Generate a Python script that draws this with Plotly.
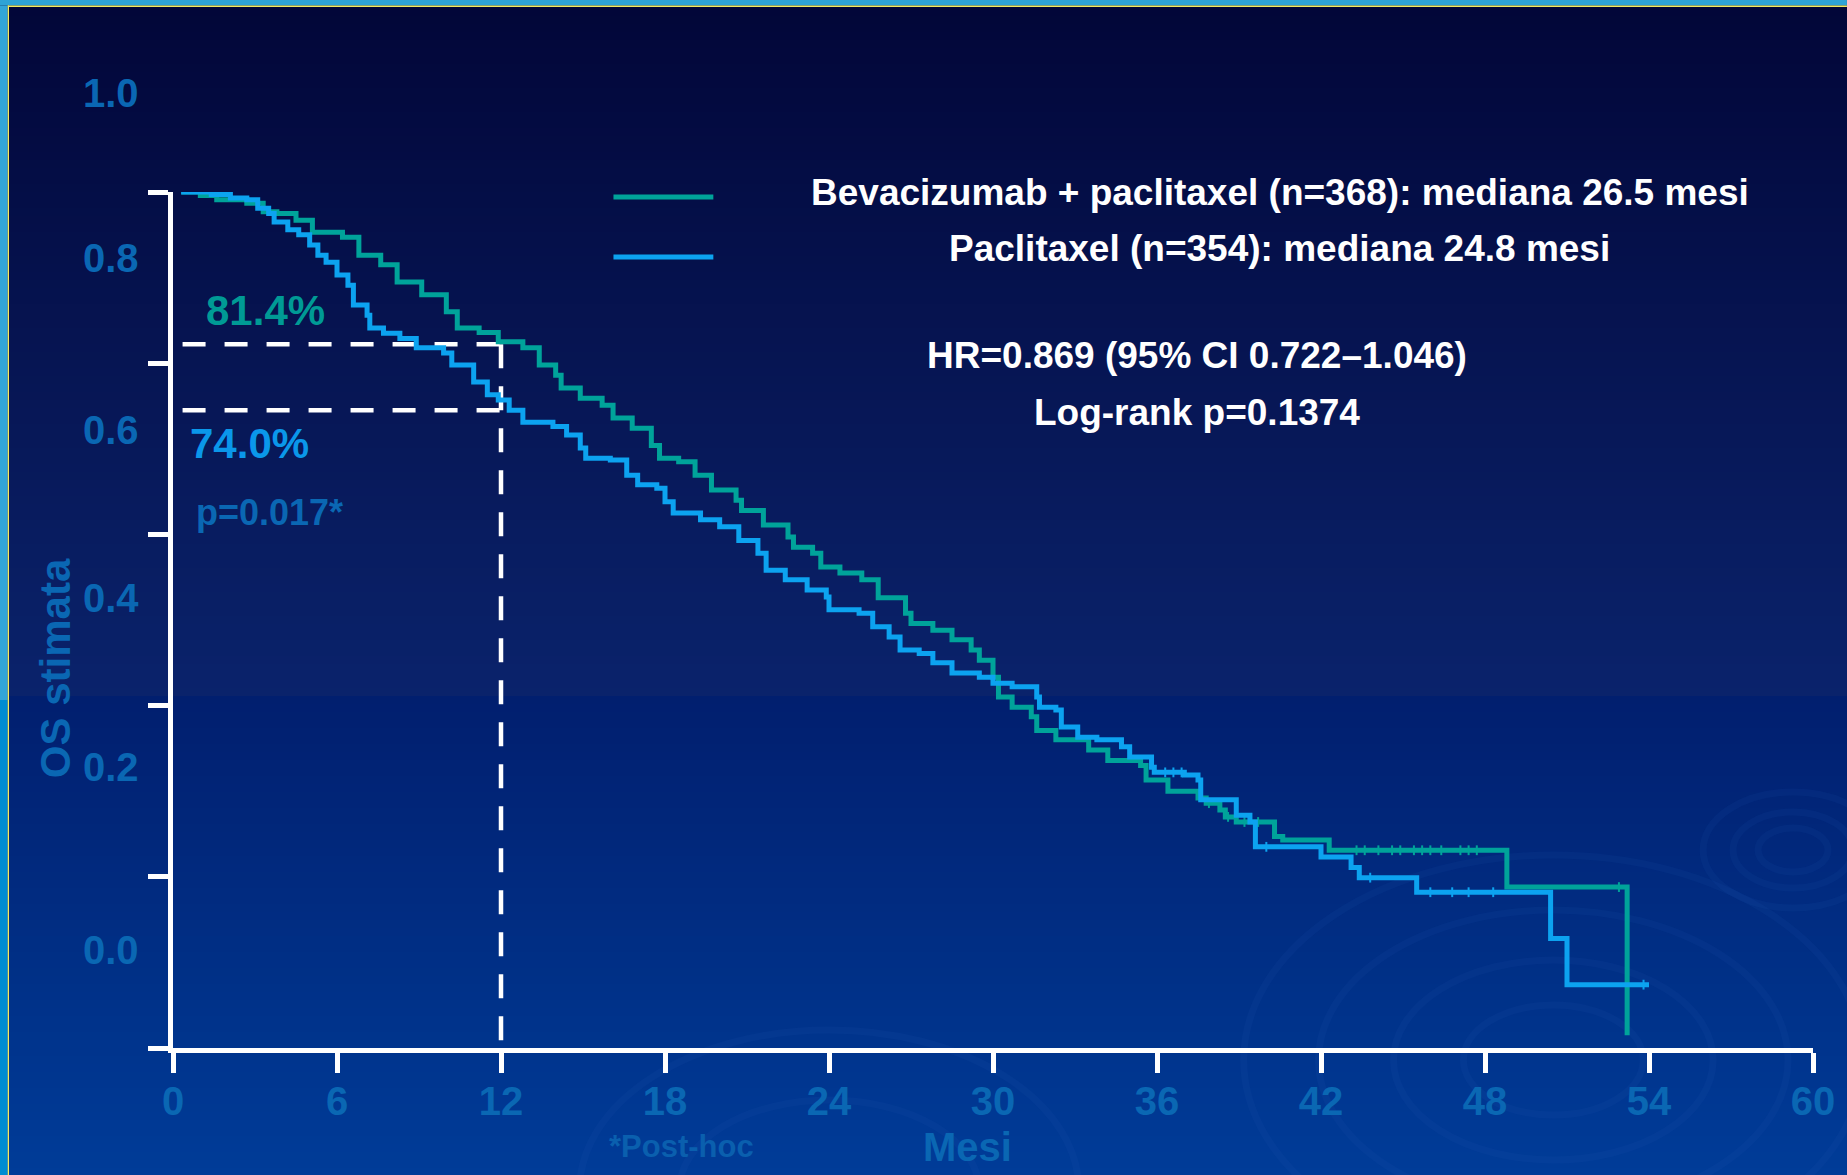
import plotly.graph_objects as go

# ---------------- data ----------------
bev_months = [0.3, 1.0, 1.6, 2.7, 3.3, 3.8, 4.5, 5.1, 6.2, 6.8, 7.6, 8.2, 9.1, 10.0, 10.4, 11.2,
              11.9, 12.8, 13.4, 14.0, 14.2, 14.9, 15.7, 16.1, 16.8, 17.5, 17.8, 18.5, 19.1, 19.7,
              20.6, 20.8, 21.6, 22.5, 22.7, 23.4, 23.7, 24.4, 25.2, 25.8, 26.8, 27.0, 27.8, 28.5,
              29.2, 29.5, 30.0, 30.2, 30.7, 31.4, 31.6, 32.3, 33.5, 34.2, 35.4, 35.6, 36.4, 37.5,
              37.8, 38.3, 38.5, 38.9, 40.3, 40.6, 42.3, 48.8, 53.2]
bev_surv = [1.000, 0.996, 0.991, 0.987, 0.977, 0.975, 0.967, 0.953, 0.947, 0.926, 0.915, 0.895,
            0.880, 0.860, 0.841, 0.836, 0.825, 0.818, 0.798, 0.786, 0.771, 0.759, 0.751, 0.736,
            0.724, 0.704, 0.689, 0.685, 0.669, 0.652, 0.640, 0.628, 0.611, 0.597, 0.585, 0.578,
            0.562, 0.555, 0.547, 0.526, 0.508, 0.496, 0.488, 0.477, 0.465, 0.453, 0.433, 0.410,
            0.398, 0.387, 0.371, 0.360, 0.348, 0.336, 0.330, 0.313, 0.300, 0.292, 0.286, 0.278,
            0.270, 0.264, 0.247, 0.243, 0.231, 0.188, 0.015]

pac_months = [0.3, 1.4, 2.1, 2.7, 3.1, 3.5, 3.7, 4.2, 4.6, 5.0, 5.3, 5.6, 6.0, 6.4, 6.6, 7.1, 7.2,
              7.7, 8.3, 8.9, 9.9, 10.2, 11.0, 11.5, 11.9, 12.3, 12.8, 13.9, 14.4, 14.9, 15.1, 16.0,
              16.6, 17.0, 17.7, 18.0, 18.3, 19.3, 20.0, 20.7, 21.4, 21.7, 22.4, 23.2, 23.9, 24.0,
              25.1, 25.6, 26.2, 26.6, 27.3, 27.8, 28.5, 29.5, 30.0, 30.7, 31.6, 31.7, 32.3, 32.5,
              33.1, 33.8, 34.7, 35.0, 35.8, 35.9, 37.0, 37.5, 37.6, 38.9, 39.4, 39.6, 42.0, 43.1,
              43.4, 45.5, 50.4, 51.0, 54.0]
pac_surv = [1.000, 0.997, 0.993, 0.991, 0.981, 0.975, 0.965, 0.956, 0.950, 0.938, 0.926, 0.918,
            0.903, 0.891, 0.868, 0.856, 0.841, 0.835, 0.829, 0.818, 0.812, 0.798, 0.778, 0.763,
            0.757, 0.745, 0.731, 0.726, 0.716, 0.701, 0.689, 0.687, 0.669, 0.658, 0.654, 0.638,
            0.625, 0.617, 0.609, 0.593, 0.578, 0.558, 0.547, 0.535, 0.527, 0.512, 0.508, 0.492,
            0.480, 0.465, 0.461, 0.450, 0.438, 0.433, 0.426, 0.422, 0.410, 0.398, 0.395, 0.375,
            0.363, 0.360, 0.352, 0.340, 0.328, 0.322, 0.319, 0.313, 0.290, 0.272, 0.264, 0.235,
            0.223, 0.211, 0.199, 0.182, 0.128, 0.074, 0.074]

bev_censor = [37.9, 38.6, 39.2, 39.7, 43.3, 43.6, 44.1, 44.6, 44.9, 45.4, 45.7, 46.0, 46.4, 47.1,
              47.4, 47.7, 52.9]
pac_censor = [36.3, 36.6, 36.9, 40.0, 43.8, 46.0, 46.8, 47.4, 48.3, 53.8]

landmark_month = 12
landmark_levels = [0.822, 0.745]        # where the dashed guides sit in the picture
landmark_texts = ["81.4%", "74.0%"]

x_ticks = [0, 6, 12, 18, 24, 30, 36, 42, 48, 54, 60]
y_ticks = [0, 0.2, 0.4, 0.6, 0.8, 1.0]
y_tick_labels = ["1.0", "0.8", "0.6", "0.4", "0.2", "0.0"]

legend_texts = ["Bevacizumab + paclitaxel (n=368): mediana 26.5 mesi",
                "Paclitaxel (n=354): mediana 24.8 mesi"]
stats_texts = ["HR=0.869 (95% CI 0.722–1.046)", "Log-rank p=0.1374"]

# ---------------- styling ----------------
W, H = 1847, 1175
L, R, T, B = 173, 32, 192, 127
PW, PH = W - L - R, H - T - B

GREEN = "#00A39A"
BLUE = "#0CA3F0"
TICKBLUE = "#0A67B3"
FONT = "Liberation Sans, Arial, Helvetica, sans-serif"


def px(X):
    return (X - L) / PW


def py(Y):
    return (H - B - Y) / PH


def step_value(months, surv, t):
    v = surv[0]
    for m, s in zip(months, surv):
        if m <= t:
            v = s
    return v


fig = go.Figure()

# dashed landmark guides
for lvl in landmark_levels:
    fig.add_trace(go.Scatter(x=[0.35, landmark_month], y=[lvl, lvl], mode="lines",
                             line=dict(color="white", width=4.5, dash="23px,19px"),
                             hoverinfo="skip", showlegend=False))
fig.add_trace(go.Scatter(x=[landmark_month, landmark_month], y=[max(landmark_levels), 0],
                         mode="lines", line=dict(color="white", width=4.5, dash="24px,18px"),
                         hoverinfo="skip", showlegend=False))

# KM curves
fig.add_trace(go.Scatter(x=bev_months, y=bev_surv, mode="lines", line_shape="hv",
                         line=dict(color=GREEN, width=5), showlegend=False))
fig.add_trace(go.Scatter(x=bev_censor, y=[step_value(bev_months, bev_surv, t) for t in bev_censor],
                         mode="markers", marker=dict(symbol="line-ns", size=7,
                                                     line=dict(color=GREEN, width=2)),
                         showlegend=False))
fig.add_trace(go.Scatter(x=pac_months, y=pac_surv, mode="lines", line_shape="hv",
                         line=dict(color=BLUE, width=5), showlegend=False))
fig.add_trace(go.Scatter(x=pac_censor, y=[step_value(pac_months, pac_surv, t) for t in pac_censor],
                         mode="markers", marker=dict(symbol="line-ns", size=7,
                                                     line=dict(color=BLUE, width=2)),
                         showlegend=False))

shapes = []


def lerp(c1, c2, f):
    return tuple(round(a + (b - a) * f) for a, b in zip(c1, c2))


# background gradient (two panels with a seam, as on the slide)
band = 8
for Y0 in range(0, H + band, band):
    Yc = Y0 + band / 2
    if Yc < 700:
        c = lerp((2, 6, 56), (10, 35, 108), Yc / 700)
    else:
        c = lerp((1, 31, 111), (0, 60, 152), (Yc - 700) / (H - 700))
    shapes.append(dict(type="rect", xref="paper", yref="paper", layer="below",
                       x0=px(-2), x1=px(W + 2), y0=py(Y0 + band + 0.6), y1=py(Y0),
                       line=dict(width=0), fillcolor="rgb(%d,%d,%d)" % c))

# faint decorative rings
for (cx, cy, rx, ry) in [(1555, 1060, 90, 55), (1555, 1060, 160, 100), (1555, 1060, 235, 150),
                         (1555, 1060, 310, 205), (830, 1190, 150, 90), (830, 1190, 250, 160),
                         (1795, 850, 35, 22), (1795, 850, 60, 38), (1795, 850, 90, 58)]:
    shapes.append(dict(type="circle", xref="paper", yref="paper", layer="below",
                       x0=px(cx - rx), x1=px(cx + rx), y0=py(cy + ry), y1=py(cy - ry),
                       line=dict(color="rgba(40,95,190,0.09)", width=7)))

# frame (top and left)
shapes.append(dict(type="rect", xref="paper", yref="paper", x0=px(-2), x1=px(W + 2),
                   y0=py(5.5), y1=py(-2), line=dict(width=0), fillcolor="rgb(46,163,214)"))
shapes.append(dict(type="rect", xref="paper", yref="paper", x0=px(7.5), x1=px(W + 2),
                   y0=py(7), y1=py(5.5), line=dict(width=0), fillcolor="rgb(245,235,95)"))
shapes.append(dict(type="rect", xref="paper", yref="paper", x0=px(-2), x1=px(7.5),
                   y0=py(700), y1=py(5.5), line=dict(width=0), fillcolor="rgb(50,165,216)"))
shapes.append(dict(type="rect", xref="paper", yref="paper", x0=px(-2), x1=px(7.5),
                   y0=py(H + 2), y1=py(700), line=dict(width=0), fillcolor="rgb(0,140,210)"))
shapes.append(dict(type="rect", xref="paper", yref="paper", x0=px(7.5), x1=px(8.8),
                   y0=py(H + 2), y1=py(5.5), line=dict(width=0), fillcolor="rgb(245,235,95)"))

# legend swatches
for Yl, col in [(197, GREEN), (257, BLUE)]:
    shapes.append(dict(type="line", xref="paper", yref="paper", x0=px(614), x1=px(714),
                       y0=py(Yl), y1=py(Yl), line=dict(color=col, width=5)))

annotations = []


def text(X, Y, s, size, color, xanchor="center", angle=0):
    annotations.append(dict(x=px(X), y=py(Y), xref="paper", yref="paper", text=s,
                            showarrow=False, xanchor=xanchor, yanchor="middle", textangle=angle,
                            font=dict(family=FONT, size=size, color=color, weight="bold")))


# y tick labels (offset from the tick marks as on the slide)
for s, Y in zip(y_tick_labels, [93, 258, 430, 598, 767, 950]):
    text(141, Y, s, 40, TICKBLUE, xanchor="right")

text(55, 668, "OS stimata", 42, TICKBLUE, angle=-90)
text(968, 1147, "Mesi", 40, TICKBLUE)
text(682, 1146, "*Post-hoc", 31, "#0A5FAE")

text(266, 311, landmark_texts[0], 42, "#009A95")
text(250, 443, landmark_texts[1], 42, "#0A97EA")
text(270, 512, "p=0.017*", 36, TICKBLUE)

text(1281, 192, legend_texts[0], 37, "white")
text(1281, 249, legend_texts[1], 37, "white")
text(1198, 355, stats_texts[0], 37, "white")
text(1198, 412, stats_texts[1], 37, "white")

fig.update_layout(
    width=W, height=H, autosize=False,
    margin=dict(l=L, r=R, t=T, b=B, pad=0),
    paper_bgcolor="rgb(5,25,90)", plot_bgcolor="rgba(0,0,0,0)",
    shapes=shapes, annotations=annotations, showlegend=False,
    xaxis=dict(range=[0, 60], tickvals=x_ticks, ticktext=[str(v) for v in x_ticks],
               showgrid=False, zeroline=False, showline=True, linecolor="white", linewidth=5,
               ticks="outside", ticklen=20, tickwidth=5, tickcolor="white",
               ticklabelstandoff=-6,
               tickfont=dict(family=FONT, size=40, color=TICKBLUE, weight="bold"),
               fixedrange=True),
    yaxis=dict(range=[0, 1], tickvals=y_ticks, showticklabels=False,
               showgrid=False, zeroline=False, showline=True, linecolor="white", linewidth=5,
               ticks="outside", ticklen=20, tickwidth=5, tickcolor="white", fixedrange=True),
)

fig.write_html("out.html", config={"displayModeBar": False},
               post_script="document.body.style.margin='0';")
